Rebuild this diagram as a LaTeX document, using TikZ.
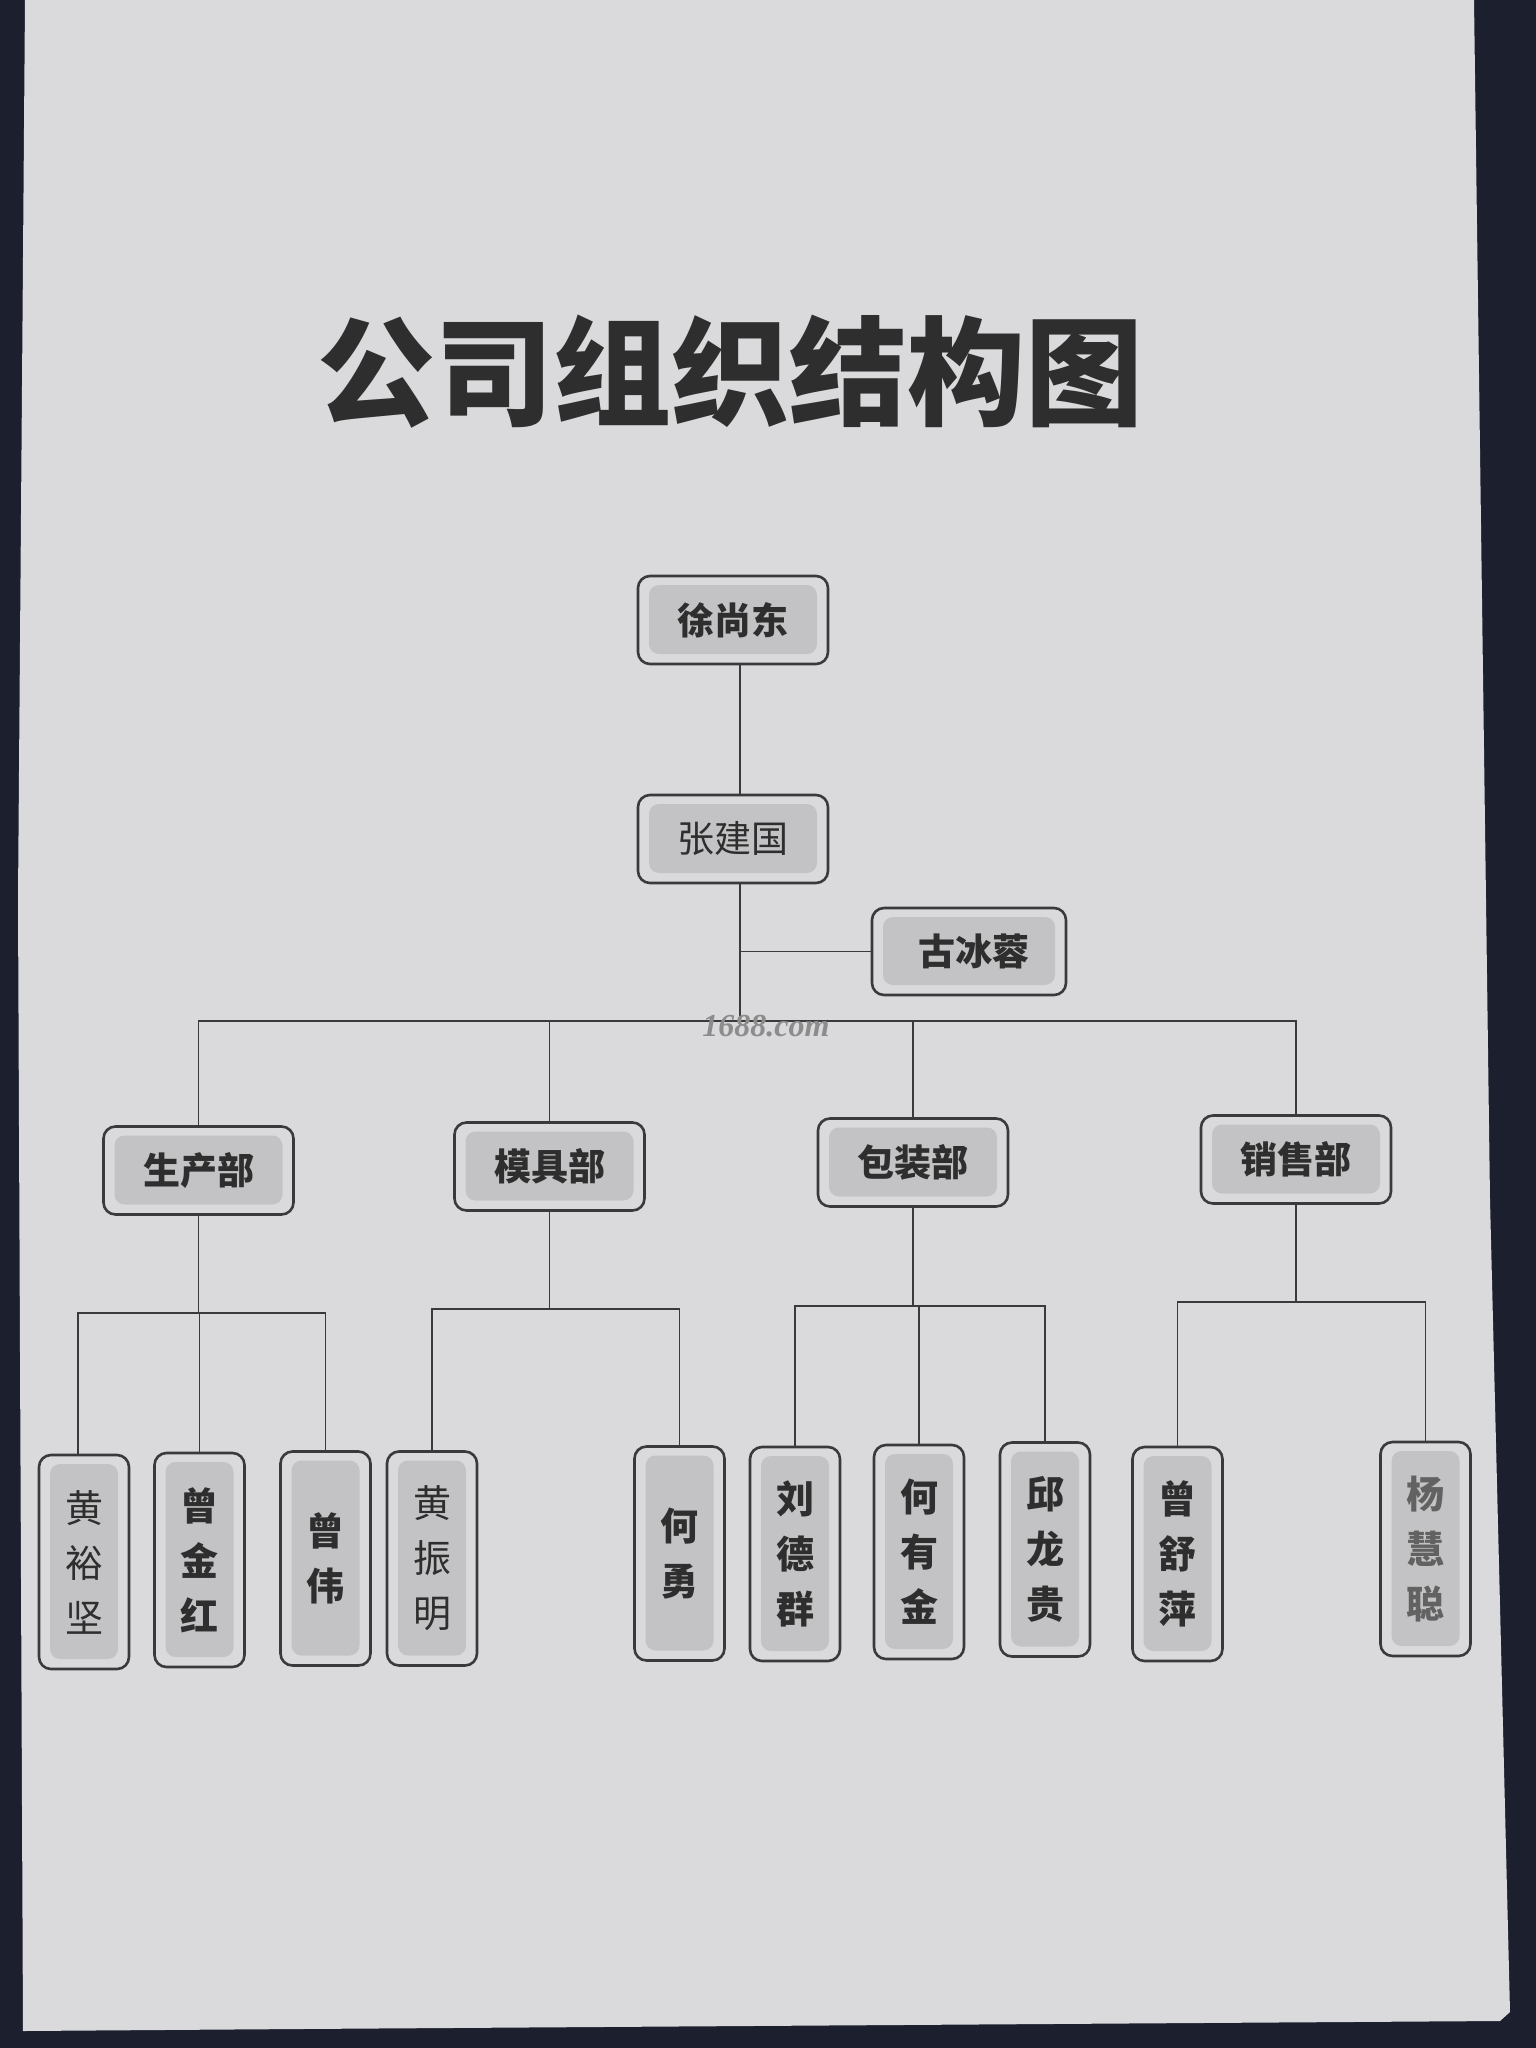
\documentclass[tikz,border=0pt]{standalone}
\usepackage{fontspec}
\setmainfont{Liberation Serif}
\newfontfamily\cjk{Noto Sans CJK SC}
\definecolor{paper}{HTML}{DADADD}
\definecolor{bgdark}{HTML}{1C1F2E}
\definecolor{innerg}{HTML}{C3C3C5}
\definecolor{ink}{HTML}{2E2E2E}
\definecolor{linec}{HTML}{3A3A3A}
\tikzset{
  box/.style={draw=linec, line width=2.6pt, rounded corners=12pt, fill=paper, text=ink, inner sep=0pt,
    path picture={\fill[innerg, rounded corners=10pt]
      ([shift={(11pt,-9pt)}]path picture bounding box.north west) rectangle
      ([shift={(-11pt,10pt)}]path picture bounding box.south east);}},
  hbox/.style={box, minimum width=190pt, minimum height=88pt, font=\cjk\bfseries\fontsize{37}{44}\selectfont},
  vbox/.style={box, minimum width=90pt, minimum height=214pt, align=center, font=\cjk\bfseries\fontsize{38}{55}\selectfont},
  lightw/.style={font=\cjk\fontsize{37}{44}\selectfont},
  lightv/.style={font=\cjk\fontsize{38}{55}\selectfont},
  conn/.style={draw=linec, line width=1.6pt},
}
\begin{document}
\begin{tikzpicture}[x=1pt, y=-1pt]
\useasboundingbox (0,0) rectangle (1536,2048);
\fill[bgdark] (0,0) rectangle (1536,2048);
\fill[paper] (25,0) -- (1474,0) -- (1490,1200) -- (1510,2012) -- (1500,2021) -- (300,2029) -- (23,2031) -- (18,900) -- cycle;

\node[font=\cjk\bfseries\fontsize{118}{130}\selectfont, text=ink] (title) at (730,372) {公司组织结构图};

% level 1-2
\node[hbox] (xsd) at (733,620) {徐尚东};
\node[hbox, lightw] (zjg) at (733,839) {张建国};
\node[hbox, minimum width=194pt, minimum height=87pt] (gbr) at (969,951.5) {\hspace{10pt}古冰蓉};

% departments
\node[hbox] (scb) at (198.5,1170.5) {生产部};
\node[hbox] (mjb) at (549.5,1166.5) {模具部};
\node[hbox] (bzb) at (913,1162.5) {包装部};
\node[hbox] (xsb) at (1296,1159.5) {销售部};

% leaves
\node[vbox, lightv] (hyj) at (84,1562) {黄\\裕\\坚};
\node[vbox] (cjh) at (199.5,1560) {曾\\金\\红};
\node[vbox] (cw) at (325.5,1558.5) {曾\\伟};
\node[vbox, lightv] (hzm) at (432,1558.5) {黄\\振\\明};
\node[vbox] (hy) at (679.5,1553.5) {何\\勇};
\node[vbox] (ldq) at (795,1554) {刘\\德\\群};
\node[vbox] (hyjin) at (919,1552) {何\\有\\金};
\node[vbox] (qlg) at (1045,1549.5) {邱\\龙\\贵};
\node[vbox] (csp) at (1177.5,1554) {曾\\舒\\萍};
\node[vbox, text=ink!75] (yhc) at (1425.5,1549) {杨\\慧\\聪};

% connectors
\coordinate (bus) at (0,1021);
\coordinate (s1) at (0,1313);
\coordinate (s2) at (0,1309);
\coordinate (s3) at (0,1306);
\coordinate (s4) at (0,1302);

\draw[conn] ([xshift=7pt]xsd.south) -- ([xshift=7pt]zjg.north);
\draw[conn] ([xshift=7pt]zjg.south) -- ([xshift=7pt]zjg.south |- bus);
\draw[conn] ([xshift=7pt]zjg.south |- gbr.west) -- (gbr.west);
\draw[conn] (scb.north) -- (scb.north |- bus) -- (xsb.north |- bus) -- (xsb.north);
\draw[conn] (mjb.north) -- (mjb.north |- bus);
\draw[conn] (bzb.north) -- (bzb.north |- bus);

\draw[conn] (scb.south) -- (scb.south |- s1);
\draw[conn] ([xshift=-6pt]hyj.north) -- ([xshift=-6pt]hyj.north |- s1) -- (cw.north |- s1) -- (cw.north);
\draw[conn] (cjh.north) -- (cjh.north |- s1);

\draw[conn] (mjb.south) -- (mjb.south |- s2);
\draw[conn] (hzm.north) -- (hzm.north |- s2) -- (hy.north |- s2) -- (hy.north);

\draw[conn] (bzb.south) -- (bzb.south |- s3);
\draw[conn] (ldq.north) -- (ldq.north |- s3) -- (qlg.north |- s3) -- (qlg.north);
\draw[conn] (hyjin.north) -- (hyjin.north |- s3);

\draw[conn] (xsb.south) -- (xsb.south |- s4);
\draw[conn] (csp.north) -- (csp.north |- s4) -- (yhc.north |- s4) -- (yhc.north);

% watermark
\node[font=\bfseries\itshape\fontsize{32}{32}\selectfont, text=black!45] (wm) at (766,1026) {1688.com};
\end{tikzpicture}
\end{document}
